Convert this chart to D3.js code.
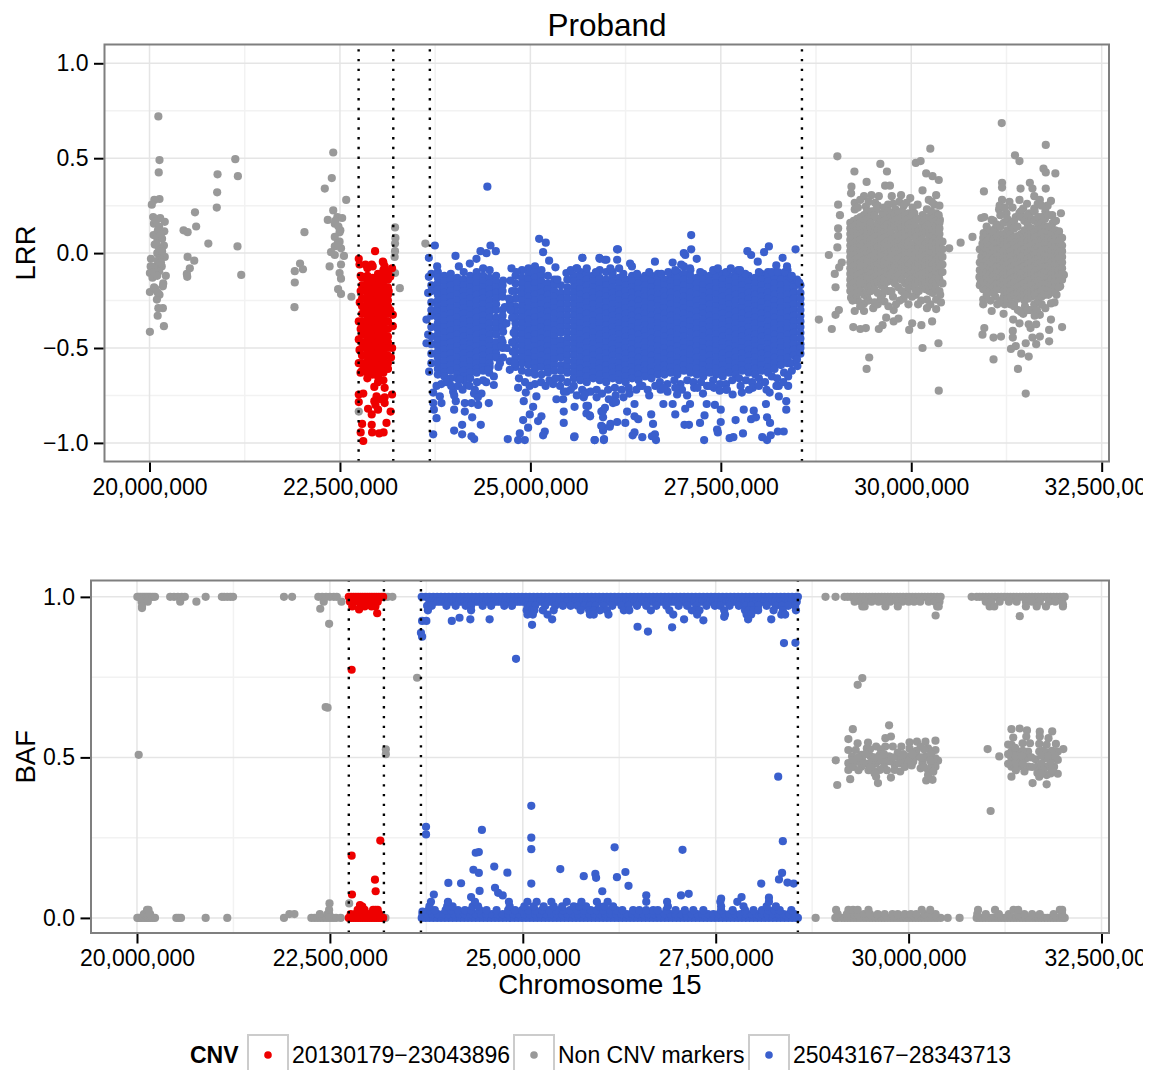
<!DOCTYPE html>
<html>
<head>
<meta charset="utf-8">
<script src="https://cdn.jsdelivr.net/npm/d3@7"></script>
<style>
body { margin: 0; background: #fff; }
svg { display: block; }
text { font-family: "Liberation Sans", Arial, sans-serif; fill: #000; }
</style>
</head>
<body>
<div id="chart"></div>
<script>
// positions are in kb
var xTicks = [20000000, 22500000, 25000000, 27500000, 30000000, 32500000];
var xMinor = [21250000, 23750000, 26250000, 28750000, 31250000];
var lrrTicks = [-1, -0.5, 0, 0.5, 1];
var lrrMinor = [-0.75, -0.25, 0.25, 0.75];
var bafTicks = [0, 0.5, 1];
var bafMinor = [0.25, 0.75];
var cnvBounds = [22745, 23200, 23680, 28565];
var legendNames = ["20130179\u221223043896", "Non CNV markers", "25043167\u221228343713"];

// LRR, scattered grey markers as kb,value pairs
var greyLrrPairs = [20116,.72,20131,.49,20121,.425,20131,.285,20063,.28,20030,.255,20048,.19,20140,.185,20200,.165,20058,.155,20126,.14,20194,.115,20053,.095,20102,.08,20165,.075,20068,.045,20189,.04,20126,.025,20200,-.02,20019,-.03,20102,0,20136,-.025,20015,-.07,20005,-.105,20078,-.07,20160,-.07,20039,-.13,20214,-.12,20126,-.095,20180,-.16,20175,-.175,20005,-.205,20078,-.19,20131,-.22,20097,-.245,20175,-.29,20116,-.29,20107,-.33,20189,-.385,20005,-.415,20085,.17,20110,.12,20150,.1,20090,.05,20150,.02,20165,.01,20110,-.04,20150,-.05,20060,-.1,20100,-.12,20060,-.18,20110,-.21,
20447,.12,20500,.11,20597,.215,20612,.14,20883,.24,20888,.32,20893,.415,21126,.495,21160,.405,21155,.035,21204,-.115,20772,.05,20500,-.02,20587,-.04,20529,-.08,20490,-.11,20495,-.125,
22034,.11,21976,-.055,21907,-.095,22014,-.085,21907,-.155,21903,-.285,22412,.53,22393,.395,22301,.34,22582,.28,22412,.225,22340,.175,22466,.19,22529,.185,22432,.155,22505,.12,22495,.11,22432,.085,22495,.06,22432,.035,22514,.025,22383,.005,22432,-.01,22553,-.015,22364,-.07,22514,-.06,22495,-.105,22514,-.135,22476,-.19,22514,-.215,22650,-.23,22440,.17,22480,.14,22470,.05,
23223,.135,23228,.08,23223,.05,23223,.01,23218,-.02,23223,-.105,23286,-.185,23621,.05,22747,-.835,
29030,.51,29594,.47,29254,.43,29681,.43,30060,.475,30123,.485,30250,.55,30196,.42,30279,.405,30361,.385,29414,.375,29215,.35,29210,.315,29657,.355,29720,.355,30148,.33,29040,.255,29064,.2,29040,.13,29040,.09,29030,.03,28918,-.01,29088,-.05,29054,-.075,28996,-.11,29006,-.18,29050,-.3,29006,-.325,28787,-.35,28957,-.4,
29239,-.39,29331,-.4,29404,-.395,29574,-.4,29623,-.38,29671,-.34,29769,-.36,29832,-.345,29973,-.405,30012,-.37,30133,-.38,30274,-.36,30357,-.475,30148,-.5,29448,-.55,29414,-.61,30361,-.725,
29258,-.305,29380,-.305,29501,-.29,29769,-.3,29963,-.27,30206,-.29,30327,-.295,30327,-.245,30206,-.245,29647,-.255,29210,-.235,29380,-.265,29300,-.25,29560,-.27,29850,-.25,
29380,.3,29477,.305,29574,.3,29744,.3,29866,.305,29987,.29,30230,.28,30327,.305,29258,.265,29404,.245,29525,.265,29696,.255,29841,.27,29938,.265,30084,.255,30303,.255,29258,.23,29477,.22,29623,.21,29793,.23,29963,.21,30206,.23,30327,.21,30376,.175,30498,.025,30648,.055,30804,.085,
29330,.28,29440,.27,29560,.25,29640,.24,29760,.26,29900,.25,30020,.24,30270,.27,30370,.25,29300,.24,29420,.22,29540,.23,29700,.22,29880,.22,30040,.21,30150,.2,30260,.22,30360,.2,
29230,-.25,29330,-.28,29440,-.25,29520,-.26,29600,-.24,29700,-.28,29800,-.27,29900,-.24,30060,-.22,30130,-.25,30250,-.27,30390,-.26,29280,-.22,29420,-.23,29620,-.22,29760,-.23,29950,-.21,30090,-.27,30380,-.22,
31188,.685,31766,.57,31362,.515,31421,.485,31736,.445,31766,.425,31892,.42,31192,.37,31192,.345,31557,.37,31591,.34,31435,.34,31766,.34,30954,.325,31615,.3,31192,.28,31289,.27,31421,.28,31688,.28,31834,.275,31965,.21,
30920,.185,30959,.19,31153,.23,31250,.21,31469,.235,31615,.235,31761,.22,31056,.175,31372,.19,31712,.19,30950,.105,31105,.13,30935,.05,30920,-.02,31858,.16,31940,.115,31955,.07,
30896,-.125,30910,-.16,30945,-.245,30945,-.27,31056,-.305,31212,-.32,30959,-.395,30935,-.43,31080,-.445,31178,-.44,31333,-.41,31333,-.445,31338,-.35,31421,-.37,31542,-.375,31566,-.395,31688,-.325,31640,-.375,31834,-.35,31810,-.405,31980,-.39,31591,-.445,31688,-.44,31810,-.465,31503,-.475,31640,-.48,31372,-.49,31309,-.505,31444,-.53,31542,-.545,31080,-.56,31401,-.61,31503,-.74,31226,-.27,31348,-.265,31493,-.28,31615,-.27,31712,-.27,31834,-.265,31105,-.23,31907,-.22,32004,-.115,31955,-.175,
31160,.25,31230,.24,31330,.24,31520,.26,31660,.26,31790,.25,31420,.21,31550,.21,31850,.2,31900,.17,31300,-.27,31400,-.3,31470,-.32,31560,-.3,31650,-.3,31760,-.29,31880,-.26,31130,-.27,31040,-.25];

// LRR, solid grey blobs as [kb, values in that column]
var greyLrrCols = [
[29200,[.16,.13,.1,.07,.04,.01,-.02,-.05,-.08,-.11,-.14,-.17,-.2]],
[29245,[.17,.14,.11,.08,.05,.02,-.01,-.04,-.07,-.1,-.13,-.16,-.19]],
[29290,[.18,.15,.12,.09,.06,.03,0,-.03,-.06,-.09,-.12,-.15,-.18,-.21]],
[29335,[.19,.16,.13,.1,.07,.04,.01,-.02,-.05,-.08,-.11,-.14,-.17,-.2]],
[29380,[.2,.17,.14,.11,.08,.05,.02,-.01,-.04,-.07,-.1,-.13,-.16,-.22]],
[29425,[.18,.15,.12,.09,.06,.03,0,-.03,-.06,-.09,-.12,-.15,-.18,-.21]],
[29470,[.19,.16,.13,.1,.07,.04,.01,-.02,-.05,-.08,-.11,-.14,-.17,-.2]],
[29515,[.2,.14,.11,.08,.05,.02,-.01,-.04,-.07,-.1,-.13,-.16,-.19]],
[29560,[.18,.15,.12,.09,.06,.03,0,-.03,-.06,-.09,-.12,-.15,-.21]],
[29605,[.17,.13,.1,.07,.04,.01,-.02,-.05,-.08,-.11,-.14,-.17]],
[29650,[.2,.17,.14,.11,.08,.05,.02,-.01,-.04,-.07,-.1,-.13,-.16,-.19]],
[29695,[.18,.15,.12,.09,.06,.03,0,-.03,-.06,-.09,-.12,-.15,-.2]],
[29740,[.19,.16,.13,.1,.07,.04,.01,-.02,-.05,-.08,-.11,-.14,-.2]],
[29785,[.2,.17,.14,.08,.05,.02,-.01,-.04,-.07,-.1,-.13,-.16]],
[29830,[.21,.18,.15,.12,.09,.06,.03,0,-.03,-.06,-.09,-.12,-.18]],
[29875,[.19,.16,.13,.1,.07,.04,.01,-.02,-.05,-.08,-.11,-.14,-.2]],
[29920,[.2,.17,.14,.11,.08,.05,.02,-.01,-.04,-.07,-.1,-.16,-.22]],
[29965,[.18,.15,.12,.09,.06,.03,0,-.03,-.06,-.09,-.12,-.15,-.18]],
[30010,[.19,.16,.13,.1,.04,.01,-.02,-.05,-.08,-.11,-.14,-.17,-.23]],
[30055,[.17,.14,.11,.08,.05,.02,-.01,-.04,-.07,-.1,-.13,-.16,-.19]],
[30100,[.18,.12,.09,.06,.03,0,-.03,-.06,-.09,-.12,-.15,-.2]],
[30145,[.16,.13,.1,.07,.04,.01,-.02,-.05,-.08,-.11,-.14,-.17]],
[30190,[.17,.14,.11,.05,.02,-.01,-.04,-.07,-.1,-.13,-.16,-.19]],
[30235,[.19,.15,.12,.09,.06,.03,0,-.03,-.06,-.09,-.12,-.15,-.2]],
[30280,[.18,.12,.09,.06,.03,0,-.03,-.06,-.09,-.12,-.15,-.18,-.21]],
[30325,[.17,.14,.11,.08,.05,.02,-.01,-.04,-.07,-.1,-.13,-.16,-.19]],
[30370,[.16,.13,.1,.07,.04,.01,-.02,-.05,-.08,-.11,-.14,-.2]],
[30410,[.06,.02,-.02,-.06,-.1,-.16]],
[30900,[.02,-.05,-.09,-.13,-.17]],
[30945,[.08,.04,0,-.03,-.07,-.11,-.15,-.19]],
[30990,[.14,.1,.06,.02,-.01,-.04,-.07,-.1,-.13,-.16,-.19,-.22]],
[31035,[.12,.08,.04,.01,-.02,-.05,-.08,-.11,-.14,-.17,-.2]],
[31080,[.17,.11,.07,.03,0,-.03,-.06,-.09,-.12,-.15,-.18,-.21]],
[31125,[.15,.09,.05,.02,-.01,-.04,-.07,-.1,-.13,-.16,-.19]],
[31170,[.2,.14,.1,.06,.02,-.01,-.04,-.07,-.1,-.13,-.16,-.19,-.25]],
[31215,[.16,.1,.07,.04,.01,-.02,-.05,-.08,-.11,-.14,-.17,-.2,-.23]],
[31260,[.18,.12,.09,.06,.03,0,-.03,-.06,-.09,-.12,-.15,-.18,-.21,-.24]],
[31305,[.15,.1,.07,.04,.01,-.02,-.05,-.08,-.11,-.14,-.17,-.2,-.23]],
[31350,[.17,.13,.08,.05,.02,-.01,-.04,-.07,-.1,-.13,-.16,-.19,-.22,-.28]],
[31395,[.14,.09,.06,.03,0,-.03,-.06,-.09,-.12,-.15,-.18,-.21,-.24]],
[31440,[.22,.19,.1,.07,.04,.01,-.02,-.05,-.08,-.11,-.14,-.17,-.2,-.23,-.31]],
[31485,[.17,.12,.08,.05,.02,-.01,-.04,-.07,-.1,-.13,-.16,-.19,-.22,-.25]],
[31530,[.2,.15,.09,.06,.03,0,-.03,-.06,-.09,-.12,-.15,-.18,-.21,-.24,-.3]],
[31575,[.18,.13,.1,.07,.04,.01,-.02,-.05,-.08,-.11,-.14,-.17,-.2,-.23]],
[31620,[.22,.17,.11,.08,.05,.02,-.01,-.04,-.07,-.1,-.13,-.16,-.19,-.22,-.33]],
[31665,[.19,.15,.12,.09,.06,.03,0,-.03,-.06,-.09,-.12,-.15,-.18,-.21,-.25]],
[31710,[.25,.16,.13,.1,.07,.04,.01,-.02,-.05,-.08,-.11,-.14,-.17,-.2,-.23]],
[31755,[.18,.14,.11,.08,.05,.02,-.01,-.04,-.07,-.1,-.13,-.16,-.19,-.22]],
[31800,[.2,.14,.11,.08,.05,.02,-.01,-.04,-.07,-.1,-.13,-.16,-.19,-.22]],
[31845,[.13,.1,.07,.04,.01,-.02,-.05,-.08,-.11,-.14,-.17,-.2]],
[31890,[.12,.09,.06,.03,0,-.03,-.06,-.09,-.12,-.15,-.18,-.21]],
[31935,[.1,.06,.03,0,-.03,-.06,-.09,-.12,-.15,-.18]],
[31980,[.08,.04,.01,-.02,-.05,-.08,-.11,-.14]]];

// LRR, red region
var redLrrCols = [
[22790,[-.13,-.17,-.2,-.24,-.28,-.32,-.36,-.39,-.43,-.47,-.5,-.54,-.58,-.62]],
[22860,[-.08,-.12,-.15,-.18,-.21,-.24,-.27,-.3,-.33,-.36,-.39,-.42,-.45,-.48,-.51,-.54,-.57,-.6,-.63,-.66]],
[22930,[-.07,-.13,-.16,-.19,-.22,-.25,-.28,-.31,-.34,-.37,-.4,-.43,-.46,-.49,-.52,-.55,-.58,-.61,-.64]],
[23000,[-.11,-.14,-.17,-.2,-.23,-.26,-.29,-.32,-.35,-.38,-.41,-.44,-.47,-.5,-.53,-.56,-.59,-.62,-.65,-.68]],
[23070,[-.05,-.09,-.12,-.15,-.18,-.21,-.24,-.27,-.3,-.33,-.36,-.39,-.42,-.45,-.48,-.51,-.54,-.57,-.6,-.63,-.67]],
[23130,[-.1,-.14,-.18,-.22,-.25,-.28,-.32,-.36,-.4,-.44,-.47,-.5,-.54,-.58,-.61]]];
var redLrrPairs = [22961,.01,22747,-.03,22757,-.06,22835,-.06,22917,-.06,23063,-.045,23087,-.07,22747,-.36,22747,-.455,22757,-.51,22747,-.58,23194,-.325,23194,-.385,23160,-.3,23184,-.08,23160,-.125,23140,-.2,22772,-.12,22772,-.2,22760,-.26,23185,-.5,23170,-.55,22772,-.4,22770,-.63,
22747,-.745,22806,-.74,22951,-.705,23087,-.71,23184,-.745,22980,-.755,22951,-.78,23087,-.76,23087,-.79,22869,-.82,22917,-.85,23000,-.825,22966,-.8,23165,-.835,23039,-.77,22791,-.9,22917,-.905,23111,-.895,22772,-.945,22922,-.945,23015,-.95,23073,-.945,22806,-.99,22747,-.785];

// LRR, blue region
var blueLrrCols = [
[23700,[-.11,-.17,-.2,-.26,-.3,-.33,-.39,-.44,-.48,-.53,-.58]],
[23785,[-.1,-.13,-.16,-.19,-.22,-.25,-.28,-.31,-.34,-.37,-.4,-.43,-.46,-.49,-.52,-.55,-.58,-.61,-.64]],
[23870,[-.12,-.15,-.18,-.21,-.24,-.27,-.3,-.33,-.36,-.39,-.42,-.45,-.48,-.51,-.54,-.57,-.6,-.63,-.65]],
[23955,[-.11,-.14,-.17,-.2,-.23,-.26,-.29,-.32,-.35,-.38,-.41,-.44,-.47,-.5,-.53,-.56,-.59,-.62,-.66]],
[24040,[-.13,-.16,-.19,-.22,-.25,-.28,-.31,-.34,-.37,-.4,-.43,-.46,-.49,-.52,-.55,-.58,-.61,-.64,-.66]],
[24125,[-.1,-.14,-.17,-.2,-.23,-.26,-.29,-.32,-.35,-.38,-.41,-.44,-.47,-.5,-.53,-.56,-.59,-.62,-.65,-.67]],
[24210,[-.12,-.15,-.18,-.21,-.24,-.27,-.3,-.33,-.36,-.39,-.42,-.45,-.48,-.51,-.54,-.57,-.6,-.63,-.66]],
[24295,[-.1,-.13,-.16,-.19,-.22,-.25,-.28,-.31,-.34,-.37,-.4,-.43,-.46,-.49,-.52,-.55,-.58,-.61,-.63]],
[24380,[-.08,-.12,-.15,-.18,-.21,-.24,-.27,-.3,-.33,-.36,-.39,-.42,-.45,-.48,-.51,-.54,-.57,-.6,-.62]],
[24465,[-.09,-.13,-.16,-.19,-.22,-.25,-.28,-.31,-.34,-.37,-.4,-.43,-.46,-.49,-.52,-.55,-.58,-.6]],
[24550,[-.12,-.15,-.18,-.21,-.24,-.27,-.3,-.34,-.37,-.4,-.43,-.47,-.5,-.53,-.55]],
[24635,[-.17,-.2,-.23,-.3,-.33,-.36,-.39,-.47,-.5]],
[24805,[-.12,-.16,-.2,-.24,-.28,-.31,-.34,-.37,-.4,-.43,-.46,-.49,-.52,-.55,-.58,-.6]],
[24890,[-.09,-.13,-.16,-.19,-.22,-.25,-.28,-.31,-.34,-.37,-.4,-.43,-.46,-.49,-.52,-.55,-.58,-.62]],
[24975,[-.08,-.11,-.14,-.17,-.2,-.23,-.26,-.29,-.32,-.35,-.38,-.41,-.44,-.47,-.5,-.53,-.56,-.59,-.63]],
[25060,[-.07,-.1,-.13,-.16,-.19,-.22,-.25,-.28,-.31,-.34,-.37,-.4,-.43,-.46,-.49,-.52,-.55,-.58,-.61,-.64]],
[25145,[-.09,-.12,-.15,-.18,-.21,-.24,-.27,-.3,-.33,-.36,-.39,-.42,-.45,-.48,-.51,-.54,-.57,-.6,-.64]],
[25230,[-.12,-.16,-.19,-.22,-.25,-.28,-.31,-.34,-.37,-.4,-.43,-.46,-.49,-.52,-.55,-.58,-.61,-.63]],
[25315,[-.14,-.17,-.2,-.23,-.26,-.29,-.32,-.35,-.38,-.41,-.44,-.47,-.5,-.53,-.56,-.59,-.62]],
[25400,[-.17,-.21,-.24,-.27,-.3,-.33,-.36,-.39,-.42,-.46,-.49,-.52,-.55,-.59,-.62,-.66]],
[25485,[-.14,-.18,-.21,-.24,-.27,-.3,-.33,-.36,-.39,-.42,-.45,-.48,-.51,-.54,-.57,-.6,-.63,-.68]],
[25570,[-.12,-.15,-.18,-.21,-.24,-.27,-.3,-.33,-.36,-.39,-.42,-.45,-.48,-.51,-.54,-.57,-.6,-.63,-.66,-.7]],
[25655,[-.1,-.13,-.16,-.19,-.22,-.25,-.28,-.31,-.34,-.37,-.4,-.43,-.46,-.49,-.52,-.55,-.58,-.61,-.64,-.67]],
[25740,[-.11,-.14,-.17,-.2,-.23,-.26,-.29,-.32,-.35,-.38,-.41,-.44,-.47,-.5,-.53,-.56,-.59,-.62,-.65,-.68]],
[25825,[-.12,-.15,-.18,-.21,-.24,-.27,-.3,-.33,-.36,-.39,-.42,-.45,-.48,-.51,-.54,-.57,-.6,-.63,-.66]],
[25910,[-.09,-.13,-.16,-.19,-.22,-.25,-.28,-.31,-.34,-.37,-.4,-.43,-.46,-.49,-.52,-.55,-.58,-.61,-.64,-.67]],
[25995,[-.1,-.14,-.17,-.2,-.23,-.26,-.29,-.32,-.35,-.38,-.41,-.44,-.47,-.5,-.53,-.56,-.59,-.62,-.65,-.68]],
[26080,[-.1,-.12,-.15,-.18,-.21,-.24,-.27,-.3,-.33,-.36,-.39,-.42,-.45,-.48,-.51,-.54,-.57,-.6,-.63,-.66]],
[26165,[-.08,-.13,-.16,-.19,-.22,-.25,-.28,-.31,-.34,-.37,-.4,-.43,-.46,-.49,-.52,-.55,-.58,-.61,-.64,-.67]],
[26250,[-.14,-.17,-.2,-.23,-.26,-.29,-.32,-.35,-.38,-.41,-.44,-.47,-.5,-.53,-.56,-.59,-.62,-.65,-.68]],
[26335,[-.12,-.15,-.18,-.21,-.24,-.27,-.3,-.33,-.36,-.39,-.42,-.45,-.48,-.51,-.54,-.57,-.6,-.63,-.66]],
[26420,[-.13,-.16,-.19,-.22,-.25,-.28,-.31,-.34,-.37,-.4,-.43,-.46,-.49,-.52,-.55,-.58,-.61,-.64,-.67]],
[26505,[-.12,-.14,-.17,-.2,-.23,-.26,-.29,-.32,-.35,-.38,-.41,-.44,-.47,-.5,-.53,-.56,-.59,-.62,-.65]],
[26590,[-.12,-.15,-.18,-.21,-.24,-.27,-.3,-.33,-.36,-.39,-.42,-.45,-.48,-.51,-.54,-.57,-.6,-.63,-.66]],
[26675,[-.11,-.13,-.16,-.19,-.22,-.25,-.28,-.31,-.34,-.37,-.4,-.43,-.46,-.49,-.52,-.55,-.58,-.61,-.64]],
[26760,[-.14,-.17,-.2,-.23,-.26,-.29,-.32,-.35,-.38,-.41,-.44,-.47,-.5,-.53,-.56,-.59,-.62,-.64]],
[26845,[-.12,-.15,-.18,-.21,-.24,-.27,-.3,-.33,-.36,-.39,-.42,-.45,-.48,-.51,-.54,-.57,-.6,-.63]],
[26930,[-.1,-.13,-.16,-.19,-.22,-.25,-.28,-.31,-.34,-.37,-.4,-.43,-.46,-.49,-.52,-.55,-.58,-.61,-.64]],
[27015,[-.07,-.11,-.14,-.17,-.2,-.23,-.26,-.29,-.32,-.35,-.38,-.41,-.44,-.47,-.5,-.53,-.56,-.59,-.62]],
[27100,[-.09,-.12,-.15,-.18,-.21,-.24,-.27,-.3,-.33,-.36,-.39,-.42,-.45,-.48,-.51,-.54,-.57,-.6,-.63]],
[27185,[-.13,-.16,-.19,-.22,-.25,-.28,-.31,-.34,-.37,-.4,-.43,-.46,-.49,-.52,-.55,-.58,-.61,-.64]],
[27270,[-.11,-.14,-.17,-.2,-.23,-.26,-.29,-.32,-.35,-.38,-.41,-.44,-.47,-.5,-.53,-.56,-.59,-.62,-.65]],
[27355,[-.12,-.15,-.18,-.21,-.24,-.27,-.3,-.33,-.36,-.39,-.42,-.45,-.48,-.51,-.54,-.57,-.6,-.63]],
[27440,[-.1,-.13,-.16,-.19,-.22,-.25,-.28,-.31,-.34,-.37,-.4,-.43,-.46,-.49,-.52,-.55,-.58,-.61,-.64]],
[27525,[-.11,-.14,-.17,-.2,-.23,-.26,-.29,-.32,-.35,-.38,-.41,-.44,-.47,-.5,-.53,-.56,-.59,-.62,-.65]],
[27610,[-.12,-.15,-.18,-.21,-.24,-.27,-.3,-.33,-.36,-.39,-.42,-.45,-.48,-.51,-.54,-.57,-.6,-.63]],
[27695,[-.1,-.13,-.16,-.19,-.22,-.25,-.28,-.31,-.34,-.37,-.4,-.43,-.46,-.49,-.52,-.55,-.58,-.61,-.64]],
[27780,[-.11,-.14,-.17,-.2,-.23,-.26,-.29,-.32,-.35,-.38,-.41,-.44,-.47,-.5,-.53,-.56,-.59,-.62]],
[27865,[-.12,-.15,-.18,-.21,-.24,-.27,-.3,-.33,-.36,-.39,-.42,-.45,-.48,-.51,-.54,-.57,-.6,-.63]],
[27950,[-.13,-.16,-.19,-.22,-.25,-.28,-.31,-.34,-.37,-.4,-.43,-.46,-.49,-.52,-.55,-.58,-.61,-.64]],
[28035,[-.11,-.14,-.17,-.2,-.23,-.26,-.29,-.32,-.35,-.38,-.41,-.44,-.47,-.5,-.53,-.56,-.59,-.62]],
[28120,[-.1,-.12,-.15,-.18,-.21,-.24,-.27,-.3,-.33,-.36,-.39,-.42,-.45,-.48,-.51,-.54,-.57,-.6,-.63]],
[28205,[-.13,-.16,-.19,-.22,-.25,-.28,-.31,-.34,-.37,-.4,-.43,-.46,-.49,-.52,-.55,-.58,-.61]],
[28290,[-.11,-.14,-.17,-.2,-.23,-.26,-.29,-.32,-.35,-.38,-.41,-.44,-.47,-.5,-.53,-.56,-.59]],
[28375,[-.09,-.13,-.16,-.19,-.22,-.25,-.28,-.31,-.34,-.37,-.4,-.43,-.46,-.49,-.52,-.55,-.58]],
[28460,[-.15,-.18,-.21,-.24,-.27,-.3,-.33,-.36,-.39,-.42,-.45,-.48,-.51,-.54]],
[28545,[-.17,-.21,-.24,-.27,-.3,-.33,-.36,-.39,-.42,-.45,-.48,-.5,-.53]]];
var blueLrrPairs = [23746,.04,23667,-.025,24017,-.015,24476,.04,24546,.01,24424,0,24345,.01,24292,-.03,24205,-.055,24061,-.07,23776,-.07,23667,-.125,23658,-.21,23636,-.35,23636,-.475,23658,-.43,23671,-.625,
25115,.075,25202,.055,25167,.005,25246,-.04,25329,-.075,25355,-.14,25473,-.105,25604,-.08,25683,-.025,25910,-.03,25998,-.035,26138,.02,24752,-.08,24817,-.1,24642,-.145,24738,-.145,24730,-.265,24664,-.285,24686,-.37,24642,-.415,24620,-.455,24620,-.49,24730,-.57,24730,-.615,
24760,-.2,24720,-.24,24740,-.3,24760,-.34,24780,-.42,24760,-.47,24770,-.52,24790,-.58,24600,-.58,24640,-.55,24580,-.6,24690,-.5,
24459,-.63,24520,-.65,24520,-.695,24445,-.615,24074,-.665,23986,-.73,24161,-.695,24271,-.72,24358,-.74,23811,-.755,23833,-.79,23768,-.7,23724,-.735,23724,-.79,23733,-.825,23768,-.87,23724,-.955,24021,-.78,23999,-.825,24139,-.79,24139,-.835,24227,-.79,24314,-.8,24454,-.79,24236,-.865,24104,-.905,24349,-.905,23999,-.935,24104,-.955,24227,-.965,24262,-.98,24703,-.98,24861,-.95,24839,-.985,24927,-.985,25189,-.94,25167,-.96,25574,-.97,25845,-.985,25967,-.98,
23830,-.69,23900,-.68,23960,-.7,24050,-.7,24110,-.72,24200,-.7,24300,-.68,24380,-.67,24420,-.68,24260,-.74,24310,-.76,24000,-.75,
24839,-.71,24940,-.735,24913,-.78,25079,-.755,25036,-.81,24992,-.85,24905,-.88,24970,-.92,25101,-.885,25145,-.86,25342,-.77,25430,-.77,25438,-.835,25438,-.895,25298,-.69,25473,-.73,25736,-.735,25757,-.805,25779,-.855,25932,-.835,25945,-.915,26042,-.915,26085,-.79,
24850,-.66,24930,-.68,24990,-.7,25060,-.69,25140,-.68,25200,-.7,25250,-.67,25330,-.66,25390,-.7,25440,-.73,25530,-.72,25610,-.75,25680,-.72,25700,-.76,25790,-.73,25870,-.72,25870,-.76,25940,-.74,26020,-.72,26030,-.77,26110,-.71,26120,-.75,26200,-.72,26290,-.71,26300,-.74,26390,-.72,26470,-.7,26540,-.72,26560,-.75,26640,-.7,26700,-.68,26710,-.72,26800,-.69,26800,-.73,26890,-.67,26970,-.69,26990,-.72,27060,-.67,27140,-.68,27150,-.71,27240,-.68,27320,-.7,27400,-.67,27410,-.71,27490,-.69,27570,-.69,27570,-.72,27650,-.67,27740,-.66,27760,-.7,27830,-.67,27910,-.68,27920,-.71,28000,-.66,28080,-.68,28100,-.72,28170,-.65,28240,-.66,28260,-.7,28330,-.63,28420,-.58,28500,-.56,
25530,-.09,25740,-.08,25860,-.1,26050,-.08,26220,-.11,26400,-.11,26560,-.1,26720,-.11,26810,-.1,26980,-.06,27230,-.1,27400,-.09,27570,-.1,27730,-.09,27820,-.11,28000,-.1,28170,-.1,28250,-.1,28340,-.1,28420,-.13,28500,-.14,
24435,.35,27111,.095,27111,.02,27033,-.01,27014,0,27184,-.03,26149,.02,26139,-.035,25682,-.025,25906,-.025,25979,-.035,26635,-.045,26868,-.05,26309,-.055,26333,-.07,27849,.01,27898,-.01,27985,-.045,28068,.005,28131,.035,28311,-.025,28481,.02,28228,-.065,27461,-.08,27631,-.08,27752,-.09,26902,-.09,27096,-.08,25614,-.08,28369,-.07,28432,-.12,28530,-.155,
25580,-.81,25580,-.965,25736,-.805,25736,-.845,25784,-.86,25843,-.985,25964,-.985,25954,-.935,25930,-.91,26051,-.9,26139,-.89,26246,-.895,25954,-.865,25954,-.83,26100,-.78,26270,-.835,26367,-.86,26416,-.875,26367,-.945,26343,-.96,26469,-.97,26635,-.955,26596,-.965,26649,-.985,26610,-.9,26586,-.85,26746,-.795,26868,-.795,26902,-.85,27033,-.82,27096,-.795,27023,-.905,27082,-.905,27227,-.895,27286,-.855,27315,-.795,27422,-.8,27499,-.825,27499,-.89,27451,-.93,27461,-.945,27616,-.975,27665,-.97,27791,-.95,27281,-.985,27694,-.88,27801,-.825,27898,-.875,27961,-.865,27932,-.83,28092,-.795,28107,-.865,28146,-.895,28044,-.97,28107,-.985,28155,-.96,28248,-.94,28326,-.94,28359,-.825,28359,-.78,28262,-.755,28432,-.62,28505,-.595,28384,-.7,28384,-.65,27057,-.75,26926,-.745,26902,-.71,26746,-.71,27193,-.71,27266,-.74,27485,-.725,27655,-.745,27776,-.735,28141,-.735,26440,-.7,26222,-.76,26367,-.795,26124,-.785,25979,-.815,25711,-.745,28230,-.7,28320,-.68,27360,-.7,27580,-.72,27870,-.72,28000,-.7];

// BAF, rows as [value, kb of markers in that row]
var greyBafRows = [
[1,[20005,20025,20050,20075,20100,20125,20150,20175,20205,20233,20430,20480,20530,20580,20620,20890,21100,21130,21170,21210,21245,21905,22010,22350,22400,22450,22500,22550,22590,23215,23250,23310,28923,29053,
29170,29210,29250,29290,29330,29370,29410,29450,29490,29530,29570,29610,29650,29690,29730,29770,29810,29850,29890,29930,29970,30010,30050,30090,30130,30170,30210,30250,30290,30330,30370,30415,30817,
30882,30920,30960,31000,31040,31080,31120,31160,31200,31240,31280,31320,31360,31400,31440,31480,31520,31560,31600,31640,31680,31720,31760,31800,31840,31880,31920,31960,32000,32023]],
[.985,[20060,20140,20560,20770,22420,22650,29300,29380,29440,29520,29610,29680,29760,29850,29920,30000,30070,30150,30260,30340,30400,31000,31070,31180,31300,31400,31520,31600,31700,31820,31900,31990]],
[.97,[20065,29400,29430,29700,29860,30370,30390,31050,31110,31520,31660,31780,32000]],
[0,[20005,20025,20050,20075,20100,20125,20150,20175,20205,20233,20510,20540,20570,20890,21170,21905,22260,22300,22340,22380,22420,22460,22500,22540,22580,22640,23220,
28795,29050,29080,29130,29170,29210,29250,29290,29330,29370,29410,29450,29490,29530,29570,29610,29650,29690,29730,29770,29810,29850,29890,29930,29970,30010,30050,30090,30130,30170,30210,30250,30290,30330,30370,30415,30506,30661,
30882,30920,30960,31000,31040,31080,31120,31160,31200,31240,31280,31320,31360,31400,31440,31480,31520,31560,31600,31640,31680,31720,31760,31800,31840,31880,31920,31960,32000,32023]],
[.012,[20090,20130,20170,21975,22040,22370,22470,22490,29080,29200,29290,29340,29420,29500,29600,29690,29790,29860,29950,30030,30100,30210,30290,30350,30890,31000,31170,31300,31420,31500,31600,31700,31880,31990]],
[.025,[20130,20150,22490,29060,29220,29280,29340,29480,30170,30280,30900,31120,31360,31420,31960,31990]]];
var greyBafPairs = [20065,.965,22375,.963,22490,.916,22445,.657,22470,.655,20022,.508,23225,.525,23225,.51,23630,.748,22750,.045,22495,.045,30350,.942,31440,.94,32000,.976,29400,.747,29340,.726,31063,.333,31024,.526,31175,.503,
29747,.6,29277,.588,29699,.56,29771,.565,29219,.557,29339,.544,29474,.546,30012,.547,30108,.549,30218,.549,30348,.552,29219,.523,29315,.523,29459,.528,29579,.534,29699,.534,29795,.534,29906,.534,30012,.528,30156,.534,30252,.528,30348,.523,29056,.491,29267,.503,29387,.508,29507,.503,29627,.508,29747,.503,29867,.503,29987,.503,30108,.503,30228,.503,30348,.497,29219,.482,29339,.487,29459,.48,29579,.482,29699,.487,29819,.477,29939,.487,30060,.487,30180,.482,30300,.477,30382,.49,29219,.461,29387,.471,29531,.461,29627,.461,29891,.456,30156,.466,30252,.461,29243,.432,29075,.414,29603,.42,29771,.437,29579,.44,30228,.428,30310,.43,30252,.445,29819,.461,30348,.471,29280,.49,29400,.49,29520,.483,29640,.49,29760,.488,29880,.482,30000,.488,30200,.5,30290,.51,30320,.49,29500,.525,29640,.525,29860,.515,30100,.52,30200,.525,29480,.46,29560,.45,
29350,.5,29440,.51,29560,.5,29680,.51,29800,.5,29930,.51,30050,.51,30160,.5,30280,.49,29280,.47,29350,.46,29510,.47,29680,.47,29720,.46,29950,.47,30040,.475,30200,.47,30320,.455,
31333,.588,31439,.59,31534,.584,31700,.58,31861,.581,31356,.562,31525,.565,31700,.565,31813,.56,31333,.539,31477,.544,31573,.544,31693,.542,31789,.539,31909,.542,32005,.526,31333,.518,31429,.518,31549,.518,31693,.518,31813,.515,31933,.518,31333,.497,31429,.494,31525,.497,31645,.494,31765,.497,31861,.497,31933,.492,31333,.471,31453,.473,31549,.471,31669,.471,31789,.471,31885,.471,31333,.44,31501,.456,31669,.451,31789,.445,31933,.449,31607,.42,31789,.416,31693,.44,31380,.48,31480,.48,31720,.48,31840,.485,31380,.53,31480,.52,31740,.52,31860,.52,31740,.46,31840,.45,
31380,.505,31470,.505,31590,.5,31720,.505,31820,.505,31900,.505,31390,.46,31600,.47,31720,.45,31860,.46,31290,.51,31290,.48,31290,.54];
var redBafRows = [
[1,[22745,22775,22805,22835,22865,22895,22925,22955,22985,23015,23045,23075,23105,23135,23165,23190]],
[.985,[22760,22810,22860,22900,22940,22990,23040,23080,23120]],
[.97,[22790,22900,22950,23040,23090]],
[0,[22745,22775,22805,22835,22865,22895,22925,22955,22985,23015,23045,23075,23105,23135,23165,23190]],
[.012,[22770,22830,22890,22930,22980,23020,23060,23100,23140]],
[.025,[22860,22900,22950,23060,23090,23120]]];
var redBafPairs = [22782,.773,22782,.194,23153,.241,23084,.119,23093,.083,22786,.073,22878,.961,23113,.949,22900,.97,22890,.04,22920,.035];
var blueBafRows = [
[1,[23690,23740,23790,23840,23890,23940,23990,24040,24090,24140,24190,24240,24290,24340,24390,24440,24490,24540,24590,24640,24690,24740,24790,24840,24890,24940,24990,25040,25090,25140,25190,25240,25290,25340,25390,25440,25490,25540,25590,25640,25690,25740,25790,25840,25890,25940,25990,26040,26090,26140,26190,26240,26290,26340,26390,26440,26490,26540,26590,26640,26690,26740,26790,26840,26890,26940,26990,27040,27090,27140,27190,27240,27290,27340,27390,27440,27490,27540,27590,27640,27690,27740,27790,27840,27890,27940,27990,28040,28090,28140,28190,28240,28290,28340,28390,28440,28490,28540,28565]],
[.985,[23790,23825,23860,23895,23930,23965,24000,24035,24070,24105,24140,24175,24210,24245,24280,24315,24350,24385,24420,24455,24490,24525,24560,24595,24630,24665,24700,24735,24770,24805,24840,24875,24910,24945,24980,25015,25050,25085,25120,25155,25190,25225,25260,25295,25330,25365,25400,25435,25470,25505,25540,25575,25610,25645,25680,25715,25750,25785,25820,25855,25890,25925,25960,25995,26030,26065,26100,26135,26170,26205,26240,26275,26310,26345,26380,26415,26450,26485,26520,26555,26590,26625,26660,26695,26730,26765,26800,26835,26870,26905,26940,26975,27010,27045,27080,27115,27150,27185,27220,27255,27290,27325,27360,27395,27430,27465,27500,27535,27570,27605,27640,27675,27710,27745,27780,27815,27850,27885,27920,27955,27990,28025,28060,28095,28130,28165,28200,28235,28270,28305,28340,28375,28410,28445,28480,28515,28550]],
[.972,[23760,23820,24010,24130,24260,24330,24480,24590,24760,24860,25060,25100,25160,25290,25420,25520,25620,25710,25800,25870,25940,26050,26160,26280,26370,26480,26600,26730,26860,27020,27130,27250,27380,27490,27560,27680,27800,27890,27960,28050,28160,28280,28360,28440,28530]],
[.958,[23770,24330,25050,25120,25150,25260,25400,25750,25860,25920,26000,26090,26310,26380,26660,26900,27190,27240,27290,27610,27880,27930,27990,28050,28250,28370,28540]],
[.945,[25060,25130,25320,25870,25920,26110,26950,27260,27620,27900,27960,28350,28400]],
[0,[23690,23740,23790,23840,23890,23940,23990,24040,24090,24140,24190,24240,24290,24340,24390,24440,24490,24540,24590,24640,24690,24740,24790,24840,24890,24940,24990,25040,25090,25140,25190,25240,25290,25340,25390,25440,25490,25540,25590,25640,25690,25740,25790,25840,25890,25940,25990,26040,26090,26140,26190,26240,26290,26340,26390,26440,26490,26540,26590,26640,26690,26740,26790,26840,26890,26940,26990,27040,27090,27140,27190,27240,27290,27340,27390,27440,27490,27540,27590,27640,27690,27740,27790,27840,27890,27940,27990,28040,28090,28140,28190,28240,28290,28340,28390,28440,28490,28540,28565]],
[.012,[23700,23760,23830,23900,23970,24040,24110,24180,24250,24320,24390,24460,24530,24600,24670,24740,24810,24880,24950,25020,25090,25160,25230,25300,25370,25440,25510,25580,25650,25720,25790,25860,25930,26000,26070,26140,26210,26280,26350,26420,26490,26560,26630,26700,26770,26840,26910,26980,27050,27120,27190,27260,27330,27400,27470,27540,27610,27680,27750,27820,27890,27960,28030,28100,28170,28240,28310,28380,28450,28520]],
[.024,[23780,23860,24000,24070,24160,24250,24330,24440,24530,24660,24810,24900,24990,25070,25160,25250,25340,25430,25520,25610,25700,25790,25880,25960,26040,26130,26210,26290,26430,26510,26600,26690,26750,26860,26980,27100,27210,27340,27570,27720,27880,27990,28100,28180,28260,28330,28480]],
[.036,[23790,24020,24090,24350,24420,24830,25020,25140,25270,25400,25510,25660,25730,25820,25990,26060,26170,26880,27570,27860,28160,28280]],
[.05,[23810,24030,24380,24820,25060,25180,25370,25570,25760,25960,26100,26600,26870,27560,28190]]];
var blueBafPairs = [24912,.807,25110,.349,25110,.25,25110,.214,25110,.107,23746,.284,23746,.26,24470,.274,24390,.203,24430,.205,24360,.15,24430,.14,24630,.16,24800,.141,25486,.152,24035,.109,24200,.108,24440,.084,24640,.094,24680,.078,24740,.07,23847,.073,24330,.065,
24080,.925,24180,.935,24320,.93,24570,.93,25120,.913,25380,.93,23695,.925,23750,.925,23680,.888,23695,.876,
26487,.907,26622,.892,26935,.905,27090,.93,27340,.927,27610,.938,27920,.93,28220,.93,28385,.856,28533,.857,28310,.44,26190,.22,27070,.212,28370,.239,25790,.13,25940,.137,25950,.125,26220,.127,26330,.143,26370,.1,26030,.083,28360,.14,28320,.12,28090,.107,28430,.11,28510,.107,26600,.07,27050,.07,27150,.075,27570,.06,27835,.065,27780,.05,28190,.063,23700,.02];

// ---- data helpers ----
function fromPairs(list) {
    var out = [];
    for (var i = 0; i < list.length; i += 2) out.push({kb: list[i], v: list[i + 1]});
    return out;
}
function fromCols(cols) {
    var out = [];
    cols.forEach(function(c) { c[1].forEach(function(v) { out.push({kb: c[0], v: v}); }); });
    return out;
}
function fromRows(rows) {
    var out = [];
    rows.forEach(function(r) { r[1].forEach(function(kb) { out.push({kb: kb, v: r[0]}); }); });
    return out;
}

var GREY = "#999999", RED = "#ee0000", BLUE = "#3a5fcd";

var svg = d3.select("#chart").append("svg")
    .attr("width", 1143)
    .attr("height", 1070);

function drawPanel(p) {
    var x = d3.scaleLinear().domain(p.xDomain).range([p.left, p.right]);
    var y = d3.scaleLinear().domain(p.yDomain).range([p.bottom, p.top]);
    var g = svg.append("g");

    // grid, minor first
    g.selectAll(".vminor").data(xMinor).enter().append("line")
        .attr("x1", x).attr("x2", x).attr("y1", p.top).attr("y2", p.bottom)
        .attr("stroke", "#f2f2f2").attr("stroke-width", 1.5);
    g.selectAll(".hminor").data(p.yMinor).enter().append("line")
        .attr("x1", p.left).attr("x2", p.right).attr("y1", y).attr("y2", y)
        .attr("stroke", "#f2f2f2").attr("stroke-width", 1.5);
    g.selectAll(".vmajor").data(xTicks).enter().append("line")
        .attr("x1", x).attr("x2", x).attr("y1", p.top).attr("y2", p.bottom)
        .attr("stroke", "#e5e5e5").attr("stroke-width", 1.5);
    g.selectAll(".hmajor").data(p.yTicks).enter().append("line")
        .attr("x1", p.left).attr("x2", p.right).attr("y1", y).attr("y2", y)
        .attr("stroke", "#e5e5e5").attr("stroke-width", 1.5);

    p.layers.forEach(function(layer) {
        g.append("g").selectAll("circle").data(layer.points).enter().append("circle")
            .attr("cx", function(d) { return x(d.kb * 1000); })
            .attr("cy", function(d) { return y(d.v); })
            .attr("r", 4.1)
            .attr("fill", layer.color);
    });

    // dotted lines start from the panel bottom
    g.selectAll(".bound").data(cnvBounds).enter().append("line")
        .attr("x1", function(d) { return x(d * 1000); })
        .attr("x2", function(d) { return x(d * 1000); })
        .attr("y1", p.bottom).attr("y2", p.top)
        .attr("stroke", "#000").attr("stroke-width", 2.4)
        .attr("stroke-dasharray", "2.4 7.36");

    g.append("rect")
        .attr("x", p.left).attr("y", p.top)
        .attr("width", p.right - p.left).attr("height", p.bottom - p.top)
        .attr("fill", "none").attr("stroke", "#7f7f7f").attr("stroke-width", 2);

    var xAxis = d3.axisBottom(x).tickValues(xTicks).tickSize(9.5).tickPadding(p.xPad).tickFormat(d3.format(","));
    var yAxis = d3.axisLeft(y).tickValues(p.yTicks).tickSize(9.5).tickPadding(5.5).tickFormat(d3.format(".1f"));
    var ax = g.append("g").attr("transform", "translate(0," + (p.bottom + 1) + ")").call(xAxis);
    var ay = g.append("g").attr("transform", "translate(" + (p.left - 1) + ",0)").call(yAxis);
    [ax, ay].forEach(function(a) {
        a.select(".domain").remove();
        a.selectAll("line").attr("stroke", "#000").attr("stroke-width", 2);
        a.selectAll("text").style("font-size", "23px").style("font-family", "'Liberation Sans', Arial, sans-serif");
    });

    svg.append("text")
        .attr("transform", "translate(" + 35 + "," + ((p.top + p.bottom) / 2) + ") rotate(-90)")
        .attr("text-anchor", "middle")
        .style("font-size", "27.5px")
        .text(p.yTitle);
}

drawPanel({
    left: 104.5, right: 1109, top: 44.5, bottom: 461.5,
    xDomain: [19409000, 32596000],
    yDomain: [-1.098, 1.099],
    xPad: 7,
    yTicks: lrrTicks, yMinor: lrrMinor, yTitle: "LRR",
    layers: [
        {color: GREY, points: fromPairs(greyLrrPairs).concat(fromCols(greyLrrCols))},
        {color: RED, points: fromCols(redLrrCols).concat(fromPairs(redLrrPairs))},
        {color: BLUE, points: fromCols(blueLrrCols).concat(fromPairs(blueLrrPairs))}
    ]
});

drawPanel({
    left: 91, right: 1109, top: 580.5, bottom: 933,
    xDomain: [19404000, 32597000],
    yDomain: [-0.047, 1.051],
    xPad: 6,
    yTicks: bafTicks, yMinor: bafMinor, yTitle: "BAF",
    layers: [
        {color: GREY, points: fromRows(greyBafRows).concat(fromPairs(greyBafPairs))},
        {color: RED, points: fromRows(redBafRows).concat(fromPairs(redBafPairs))},
        {color: BLUE, points: fromRows(blueBafRows).concat(fromPairs(blueBafPairs))}
    ]
});

svg.append("text").attr("x", 607).attr("y", 36).attr("text-anchor", "middle")
    .style("font-size", "31.5px").text("Proband");
svg.append("text").attr("x", 600).attr("y", 994).attr("text-anchor", "middle")
    .style("font-size", "27.5px").text("Chromosome 15");

// legend
svg.append("text").attr("x", 190).attr("y", 1063)
    .style("font-size", "23px").style("font-weight", "bold").text("CNV");
var legendBoxX = [248, 514, 749];
var legendColors = [RED, GREY, BLUE];
var legend = svg.selectAll(".key").data(legendNames).enter().append("g");
legend.append("rect")
    .attr("x", function(d, i) { return legendBoxX[i]; })
    .attr("y", 1035).attr("width", 40).attr("height", 50)
    .attr("fill", "#fff").attr("stroke", "#cccccc").attr("stroke-width", 2);
legend.append("circle")
    .attr("cx", function(d, i) { return legendBoxX[i] + 20; })
    .attr("cy", 1055).attr("r", 3.8)
    .attr("fill", function(d, i) { return legendColors[i]; });
legend.append("text")
    .attr("x", function(d, i) { return legendBoxX[i] + 44; })
    .attr("y", 1063)
    .style("font-size", "23px")
    .text(function(d) { return d; });
</script>
</body>
</html>
